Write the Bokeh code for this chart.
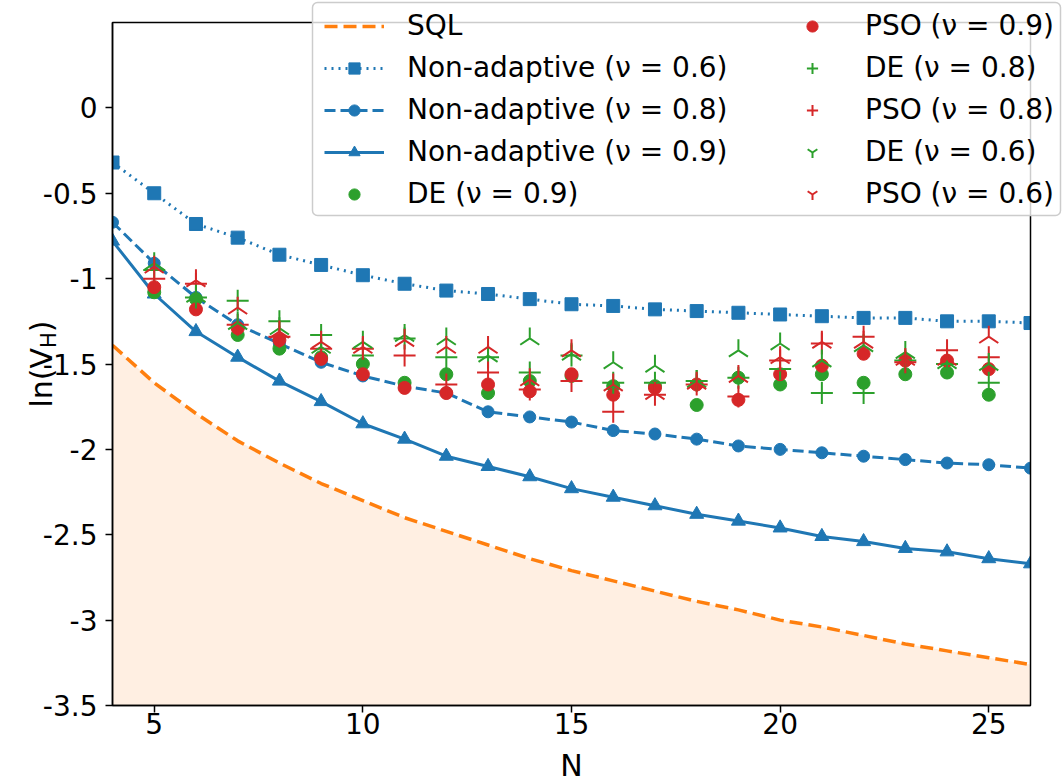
import math
from bokeh.plotting import figure
from bokeh.models import Legend, LegendItem, FixedTicker, LinearAxis, BoxAnnotation
from bokeh.core.properties import value
from bokeh.embed import file_html
from bokeh.resources import INLINE

# ---------------- data ----------------
N = [4, 5, 6, 7, 8, 9, 10, 11, 12, 13, 14, 15, 16, 17, 18, 19, 20, 21, 22, 23, 24, 25, 26]
sql = [-1.39, -1.61, -1.79, -1.95, -2.08, -2.20, -2.30, -2.40, -2.48, -2.56, -2.64, -2.71,
       -2.77, -2.83, -2.89, -2.94, -3.00, -3.04, -3.09, -3.14, -3.18, -3.22, -3.26]
na06 = [-0.32, -0.50, -0.68, -0.76, -0.86, -0.92, -0.98, -1.03, -1.07, -1.09, -1.12, -1.15,
        -1.16, -1.18, -1.19, -1.20, -1.21, -1.22, -1.23, -1.23, -1.25, -1.25, -1.26]
na08 = [-0.67, -0.91, -1.11, -1.27, -1.38, -1.49, -1.57, -1.63, -1.67, -1.78, -1.81, -1.84,
        -1.89, -1.91, -1.94, -1.98, -2.00, -2.02, -2.04, -2.06, -2.08, -2.09, -2.11]
na09 = [-0.78, -1.09, -1.31, -1.46, -1.60, -1.72, -1.85, -1.94, -2.04, -2.10, -2.16, -2.23,
        -2.28, -2.33, -2.38, -2.42, -2.46, -2.51, -2.54, -2.58, -2.60, -2.64, -2.67]

N_opt = [5, 6, 7, 8, 9, 10, 11, 12, 13, 14, 15, 16, 17, 18, 19, 20, 21, 22, 23, 24, 25]
de09 = [-1.08, -1.12, -1.33, -1.41, -1.46, -1.50, -1.61, -1.56, -1.67, -1.60, -1.57,
        -1.63, -1.63, -1.74, -1.58, -1.62, -1.56, -1.61, -1.56, -1.55, -1.68]
pso09 = [-1.05, -1.18, -1.29, -1.36, -1.47, -1.56, -1.64, -1.67, -1.62, -1.66, -1.56,
         -1.68, -1.64, -1.62, -1.71, -1.56, -1.51, -1.44, -1.48, -1.48, -1.53]
de08 = [-0.95, -1.11, -1.13, -1.25, -1.33, -1.45, -1.35, -1.46, -1.46, -1.55, -1.45,
        -1.61, -1.61, -1.60, -1.58, -1.53, -1.67, -1.67, -1.48, -1.50, -1.61]
pso08 = [-1.00, -1.03, -1.27, -1.34, -1.41, -1.41, -1.45, -1.62, -1.55, -1.65, -1.60,
         -1.78, -1.68, -1.62, -1.69, -1.48, -1.38, -1.34, -1.49, -1.42, -1.46]
de06 = [-0.91, -1.10, -1.26, -1.29, -1.40, -1.37, -1.33, -1.35, -1.45, -1.35, -1.44,
        -1.49, -1.51, -1.60, -1.42, -1.38, -1.48, -1.39, -1.43, -1.49, -1.50]
pso06 = [-0.93, -1.01, -1.17, -1.31, -1.37, -1.40, -1.36, -1.40, -1.40, -1.59, -1.42,
         -1.62, -1.67, -1.61, -1.57, -1.46, -1.37, -1.37, -1.47, -1.47, -1.34]

xticks = [5, 10, 15, 20, 25]
yticks = [-3.5, -3, -2.5, -2, -1.5, -1, -0.5, 0]
ytick_labels = ["-3.5", "-3", "-2.5", "-2", "-1.5", "-1", "-0.5", "0"]
x_lo, x_hi = 4, 26
y_lo, y_hi = -3.5, 0.5

# ---------------- layout (pixels) ----------------
W, H = 1063, 782
AX_L, AX_R, AX_T, AX_B = 112, 1030, 22, 705   # plotting box in canvas pixels
kx = (AX_R - AX_L) / (x_hi - x_lo)
ky = (AX_B - AX_T) / (y_hi - y_lo)
xr = (x_lo - AX_L / kx, x_hi + (W - AX_R) / kx)
yr = (y_lo - (H - AX_B) / ky, y_hi + AX_T / ky)

def sy(py):  # canvas y (from top) -> screen units from frame bottom
    return H - py

def dx(px):  # canvas x -> data x (for text placement)
    return xr[0] + px / kx

def dy(py):  # canvas y -> data y (for text placement)
    return yr[1] - py / ky

FONT = "DejaVu Sans"
BLUE = "#1f77b4"
ORANGE = "#ff7f0e"
GREEN = "#2ca02c"
RED = "#d62728"

p = figure(width=W, height=H, x_range=xr, y_range=yr, title=None,
           x_axis_location=None, y_axis_location=None,
           output_backend="svg", toolbar_location=None,
           min_border=0, min_border_left=0, min_border_right=0,
           min_border_top=0, min_border_bottom=0)
p.xgrid.visible = False
p.ygrid.visible = False
p.background_fill_color = "white"
p.border_fill_color = "white"
p.outline_line_color = None

xaxis = LinearAxis(fixed_location=y_lo, bounds=(x_lo, x_hi), ticker=FixedTicker(ticks=xticks))
yaxis = LinearAxis(fixed_location=x_lo, bounds=(y_lo, y_hi), ticker=FixedTicker(ticks=yticks))
yaxis.major_label_overrides = dict(zip(yticks, ytick_labels))
for ax in (xaxis, yaxis):
    ax.axis_line_width = 1.5
    ax.axis_line_color = "black"
    ax.major_tick_line_width = 1.5
    ax.major_tick_line_color = "black"
    ax.major_tick_out = 7
    ax.major_tick_in = 0
    ax.minor_tick_out = 0
    ax.minor_tick_in = 0
    ax.major_label_text_font = FONT
    ax.major_label_text_font_size = "28px"
    ax.major_label_text_color = "black"
xaxis.major_label_standoff = 0
yaxis.major_label_standoff = 8

# ---------------- glyphs ----------------
p.varea(x=N, y1=[y_lo] * len(N), y2=sql, fill_color=ORANGE, fill_alpha=0.12)
r_sql = p.line(N, sql, line_color=ORANGE, line_width=3.5, line_dash="13 6")

r_l06 = p.line(N, na06, line_color=BLUE, line_width=3, line_dash="2 5")
r_m06 = p.scatter(N, na06, marker="square", size=13, color=BLUE)
r_l08 = p.line(N, na08, line_color=BLUE, line_width=3, line_dash="11 5")
r_m08 = p.scatter(N, na08, marker="circle", size=12, color=BLUE)
r_l09 = p.line(N, na09, line_color=BLUE, line_width=3)
r_m09 = p.scatter(N, na09, marker="triangle", size=14, color=BLUE)

r_de09 = p.scatter(N_opt, de09, marker="circle", size=13, color=GREEN)
r_pso09 = p.scatter(N_opt, pso09, marker="circle", size=13, color=RED)
r_de08 = p.scatter(N_opt, de08, marker="cross", size=22, line_color=GREEN, line_width=2)
r_pso08 = p.scatter(N_opt, pso08, marker="cross", size=22, line_color=RED, line_width=2)
r_de06 = p.scatter(N_opt, de06, marker="y", size=22, angle=math.pi, line_color=GREEN, line_width=2)
r_pso06 = p.scatter(N_opt, pso06, marker="y", size=22, angle=math.pi, line_color=RED, line_width=2)

# masks: clip marks to the plotting box (left / right)
mask_l = BoxAnnotation(left=xr[0], right=x_lo, fill_color="white", fill_alpha=1,
                       line_alpha=0, level="glyph")
mask_r = BoxAnnotation(left=x_hi, right=xr[1], fill_color="white", fill_alpha=1,
                       line_alpha=0, level="glyph")
p.add_layout(mask_l)
p.add_layout(mask_r)

# plotting-box frame
frame_box = BoxAnnotation(left=x_lo, right=x_hi, bottom=y_lo, top=y_hi, fill_alpha=0,
                          line_color="black", line_width=1.5, line_alpha=1, level="guide")
p.add_layout(frame_box)
p.add_layout(xaxis, "below")
p.add_layout(yaxis, "left")

# ---------------- axis titles (text glyphs, drawn on top) ----------------
ysz = 30
hsz = 21
w1 = 1.986 * ysz
w2 = 0.752 * hsz
w3 = 0.39 * ysz
y_start = (AX_T + AX_B) / 2 + (w1 + w2 + w3) / 2   # canvas y of the text start (bottom)
yb = 41                                             # canvas x of the baseline
txt_kw = dict(angle=math.pi / 2, text_align="left", text_baseline="alphabetic",
              text_font=value(FONT), text_color="black", level="overlay")
p.text(x=[dx(yb)], y=[dy(y_start)], text=["ln(V"], text_font_size=value(f"{ysz}px"), **txt_kw)
p.text(x=[dx(yb + 7)], y=[dy(y_start - w1)], text=["H"], text_font_size=value(f"{hsz}px"), **txt_kw)
p.text(x=[dx(yb)], y=[dy(y_start - w1 - w2)], text=[")"], text_font_size=value(f"{ysz}px"), **txt_kw)
p.text(x=[dx((AX_L + AX_R) / 2)], y=[dy(765)], text=["N"], text_align="center",
       text_baseline="middle", text_font=value(FONT), text_font_size=value("30px"),
       text_color="black", level="overlay")

# ---------------- legend ----------------
box_kw = dict(left=312, right=1060, top=sy(2), bottom=sy(215),
              left_units="screen", right_units="screen", top_units="screen",
              bottom_units="screen", fill_color="white", fill_alpha=0.8,
              line_color="#cccccc", line_width=1.5, line_alpha=1)
try:
    leg_box = BoxAnnotation(border_radius=5, **box_kw)
except Exception:
    leg_box = BoxAnnotation(**box_kw)
p.add_layout(leg_box)

common = dict(glyph_width=60, glyph_height=28, label_height=41, spacing=1, padding=4,
              label_standoff=23, label_text_font=FONT, label_text_font_size="28px",
              label_text_color="black", margin=0, border_line_alpha=0,
              background_fill_alpha=0)
leg_h = 2 * 4 + 5 * 41 + 4 * 1
leg_top = 1

leg1 = Legend(items=[
    LegendItem(label="SQL", renderers=[r_sql]),
    LegendItem(label="Non-adaptive (ν = 0.6)", renderers=[r_l06, r_m06]),
    LegendItem(label="Non-adaptive (ν = 0.8)", renderers=[r_l08, r_m08]),
    LegendItem(label="Non-adaptive (ν = 0.9)", renderers=[r_l09, r_m09]),
    LegendItem(label="DE (ν = 0.9)", renderers=[r_de09]),
], location=(324 - 4, H - leg_top - leg_h), **common)

leg2 = Legend(items=[
    LegendItem(label="PSO (ν = 0.9)", renderers=[r_pso09]),
    LegendItem(label="DE (ν = 0.8)", renderers=[r_de08]),
    LegendItem(label="PSO (ν = 0.8)", renderers=[r_pso08]),
    LegendItem(label="DE (ν = 0.6)", renderers=[r_de06]),
    LegendItem(label="PSO (ν = 0.6)", renderers=[r_pso06]),
], location=(782 - 4, H - leg_top - leg_h), **common)

p.add_layout(leg1, "center")
p.add_layout(leg2, "center")

open("out.html", "w").write(file_html(p, INLINE))
